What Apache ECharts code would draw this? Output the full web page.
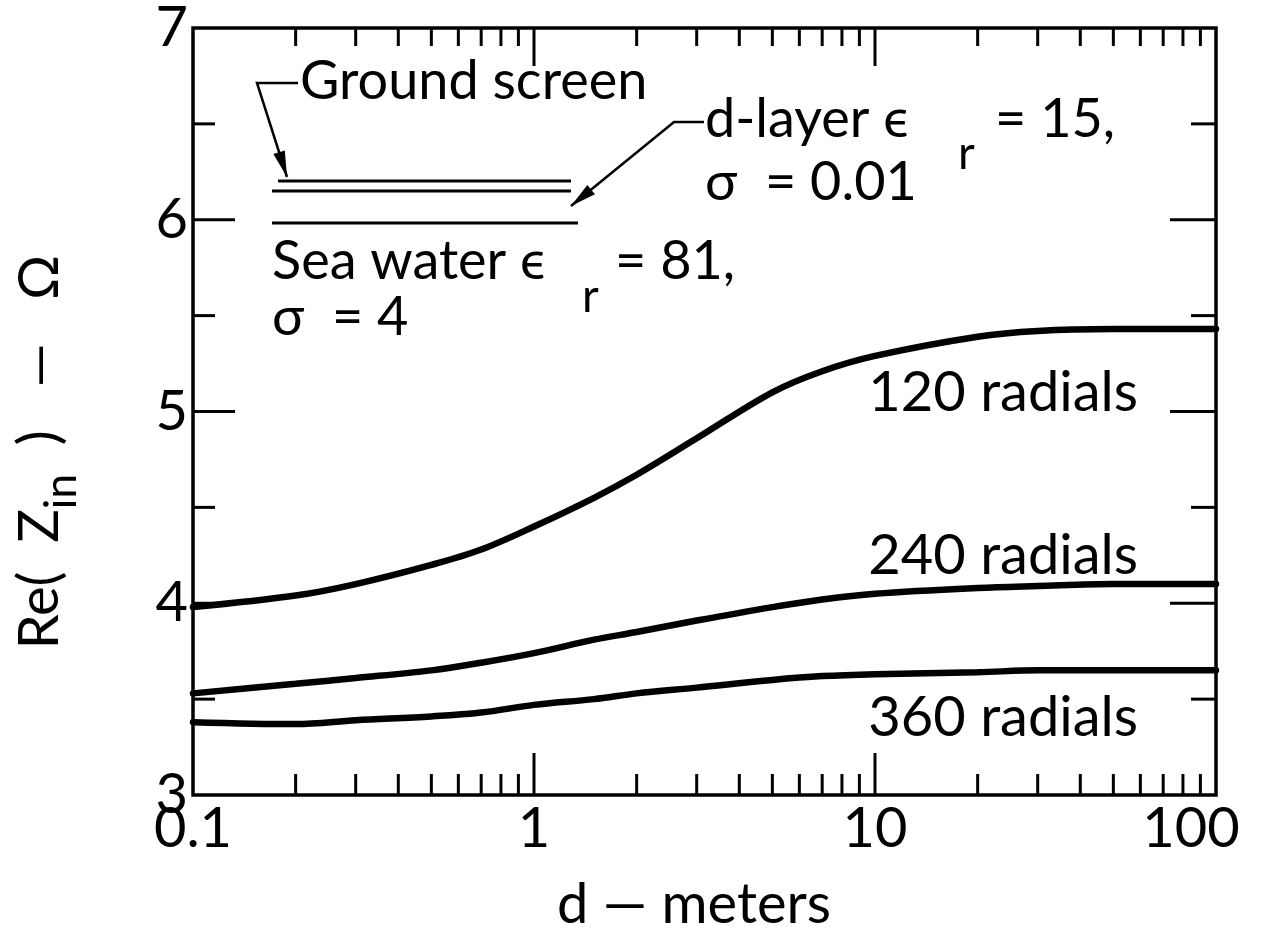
<!DOCTYPE html>
<html>
<head>
<meta charset="utf-8">
<script src="https://cdn.jsdelivr.net/npm/echarts@6/dist/echarts.min.js"></script>
<style>
  html, body { margin: 0; padding: 0; background: #ffffff; }
  #chart { width: 1266px; height: 944px; }
</style>
</head>
<body>
<div id="chart"></div>
<script>
// Distance d (meters) at which the input resistance was evaluated
const distances   = [0.1, 0.2, 0.3, 0.5, 0.7, 1, 1.5, 2, 3, 5, 7, 10, 20, 30, 50, 100];
// Re(Z_in) in ohms for each radial count
const radials120  = [3.98, 4.04, 4.10, 4.20, 4.28, 4.40, 4.55, 4.67, 4.86, 5.10, 5.21, 5.29, 5.39, 5.42, 5.43, 5.43];
const radials240  = [3.53, 3.58, 3.61, 3.65, 3.69, 3.74, 3.81, 3.85, 3.91, 3.98, 4.02, 4.05, 4.08, 4.09, 4.10, 4.10];
const radials360  = [3.38, 3.37, 3.39, 3.41, 3.43, 3.47, 3.50, 3.53, 3.56, 3.60, 3.62, 3.63, 3.64, 3.65, 3.65, 3.65];

// Axis ranges and tick positions
const xRange = [0.1, 100];
const yRange = [3, 7];
const xMajorTicks = [1, 10];
const xMinorTicks = [0.2, 0.3, 0.4, 0.5, 0.6, 0.7, 0.8, 0.9, 2, 3, 4, 5, 6, 7, 8, 9, 20, 30, 40, 50, 60, 70, 80, 90];
const yMajorTicks = [4, 5, 6];
const yMinorTicks = [3.5, 4.5, 5.5, 6.5];
const xTickLabels = { 0.1: '0.1', 1: '1', 10: '10', 100: '100' };

const FONT = 'Lato';
const WEIGHT = 400;
const INK = '#000000';

const chart = echarts.init(document.getElementById('chart'), null, { renderer: 'canvas' });

const pairs = (ys) => distances.map((d, i) => [d, ys[i]]);

// Tick marks drawn inward from each frame edge
function tickSeries(side, values, len) {
  const edge = { bottom: yRange[0], top: yRange[1], left: xRange[0], right: xRange[1] }[side];
  const data = values.map(v => (side === 'bottom' || side === 'top') ? [v, edge] : [edge, v]);
  return {
    type: 'custom',
    silent: true,
    clip: false,
    z: 5,
    data: data,
    renderItem: function (params, api) {
      const p = api.coord([api.value(0), api.value(1)]);
      let q;
      if (side === 'bottom') q = [p[0], p[1] - len];
      else if (side === 'top') q = [p[0], p[1] + len];
      else if (side === 'left') q = [p[0] + len, p[1]];
      else q = [p[0] - len, p[1]];
      return {
        type: 'line',
        shape: { x1: p[0], y1: p[1], x2: q[0], y2: q[1] },
        style: { stroke: INK, lineWidth: 3 }
      };
    }
  };
}

function curve(name, ys) {
  return {
    name: name,
    type: 'line',
    data: pairs(ys),
    smooth: 0.35,
    showSymbol: false,
    silent: true,
    z: 4,
    lineStyle: { color: INK, width: 6.5, cap: 'round' }
  };
}

function arrowHead(tip, from, len, halfW) {
  const dx = tip[0] - from[0], dy = tip[1] - from[1];
  const l = Math.sqrt(dx * dx + dy * dy);
  const ux = dx / l, uy = dy / l;
  const bx = tip[0] - ux * len, by = tip[1] - uy * len;
  return [tip, [bx - uy * halfW, by + ux * halfW], [bx + uy * halfW, by - ux * halfW]];
}

function txt(text, x, y, size, align) {
  return {
    type: 'text',
    x: x, y: y,
    silent: true,
    style: {
      text: text,
      fill: INK,
      font: WEIGHT + ' ' + size + 'px ' + FONT,
      align: align || 'left',
      verticalAlign: 'middle'
    }
  };
}

function seg(points, width) {
  return {
    type: 'polyline',
    silent: true,
    shape: { points: points },
    style: { stroke: INK, lineWidth: width || 2.5, fill: null }
  };
}

// Ground screen / d-layer / sea water schematic and its call-outs
const gsLeader = [[298, 83], [257, 83], [287, 177]];
const dlLeader = [[704, 122], [674, 122], [571, 206]];

const graphics = [
  seg([[278, 181], [571, 181]], 3),
  seg([[272, 191], [571, 191]], 3),
  seg([[272, 223], [578, 223]], 3),
  seg(gsLeader, 2.5),
  { type: 'polygon', silent: true, shape: { points: arrowHead(gsLeader[2], gsLeader[1], 26, 6) }, style: { fill: INK } },
  seg(dlLeader, 2.5),
  { type: 'polygon', silent: true, shape: { points: arrowHead(dlLeader[2], dlLeader[1], 26, 6) }, style: { fill: INK } },

  txt('Ground screen', 300, 82, 54),
  txt('d-layer \u03f5', 705, 120, 54),
  txt('r', 958, 154, 46),
  txt('= 15,', 995, 120, 54),
  txt('\u03c3  = 0.01', 705, 183, 54),
  txt('Sea water \u03f5', 272, 262, 54),
  txt('r', 582, 297, 46),
  txt('= 81,', 615, 262, 54),
  txt('\u03c3  = 4', 272, 318, 54),

  txt('120 radials', 1138, 393, 56, 'right'),
  txt('240 radials', 1138, 556, 56, 'right'),
  txt('360 radials', 1138, 718, 56, 'right'),

  txt('d \u2014 meters', 694, 905, 56, 'center'),

  {
    type: 'text',
    x: 40, y: 452,
    rotation: Math.PI / 2,
    silent: true,
    style: {
      text: '{m|Re(  Z}{s|in}{m|  )   \u2014   \u03a9}',
      align: 'center',
      verticalAlign: 'middle',
      rich: {
        m: { fontFamily: FONT, fontWeight: WEIGHT, fontSize: 56, fill: INK, color: INK },
        s: { fontFamily: FONT, fontWeight: WEIGHT, fontSize: 44, fill: INK, color: INK, padding: [44, 0, 0, 0] }
      }
    }
  }
];

const option = {
  backgroundColor: '#ffffff',
  animation: false,
  grid: {
    left: 193, right: 50, top: 22, bottom: 149,
    show: true, borderColor: INK, borderWidth: 3.5, backgroundColor: 'transparent'
  },
  xAxis: {
    type: 'log',
    logBase: 10,
    min: xRange[0],
    max: xRange[1],
    axisLine: { show: false },
    axisTick: { show: false },
    splitLine: { show: false },
    axisLabel: {
      show: true,
      margin: 6,
      color: INK,
      fontFamily: FONT,
      fontWeight: WEIGHT,
      fontSize: 56,
      formatter: function (v) {
        const key = Object.keys(xTickLabels).find(k => Math.abs(+k - v) / v < 1e-6);
        if (key === undefined) return '';
        return +key === 100 ? '{last|' + xTickLabels[key] + '}' : xTickLabels[key];
      },
      rich: {
        last: { fontFamily: FONT, fontWeight: WEIGHT, fontSize: 56, color: INK, padding: [0, 50, 0, 0] }
      }
    }
  },
  yAxis: {
    type: 'value',
    min: yRange[0],
    max: yRange[1],
    interval: 1,
    axisLine: { show: false },
    axisTick: { show: false },
    splitLine: { show: false },
    axisLabel: {
      margin: 5,
      color: INK,
      fontFamily: FONT,
      fontWeight: WEIGHT,
      fontSize: 56
    }
  },
  series: [
    curve('120 radials', radials120),
    curve('240 radials', radials240),
    curve('360 radials', radials360),
    tickSeries('bottom', xMinorTicks, 21),
    tickSeries('bottom', xMajorTicks, 42),
    tickSeries('top', xMinorTicks, 18),
    tickSeries('top', xMajorTicks, 38),
    tickSeries('left', yMinorTicks, 22),
    tickSeries('left', yMajorTicks, 42),
    tickSeries('right', yMinorTicks, 25),
    tickSeries('right', yMajorTicks, 46)
  ],
  graphic: graphics
};

chart.setOption(option);
</script>
</body>
</html>
